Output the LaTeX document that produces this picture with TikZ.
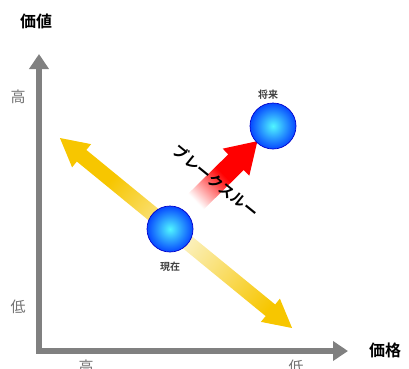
\documentclass[tikz,border=0pt]{standalone}
\usepackage{fontspec}
\setmainfont{Noto Sans CJK JP}
\newfontfamily\jpb{Noto Sans CJK JP Bold}
\usetikzlibrary{arrows.meta}
\definecolor{axisgray}{HTML}{808080}
\definecolor{gold}{HTML}{F7C600}
\definecolor{pale}{HTML}{FBF1C0}
\definecolor{ballblue}{HTML}{0648FF}
\definecolor{ballcyan}{HTML}{50F6FF}
\pgfdeclarehorizontalshading{yellowshade}{100bp}{
  color(0bp)=(gold); color(36bp)=(gold); color(52bp)=(pale); color(70bp)=(gold); color(100bp)=(gold)}
\pgfdeclarehorizontalshading{redshade}{100bp}{
  color(0bp)=(white); color(26bp)=(white); color(48bp)=(red); color(100bp)=(red)}
\tikzset{
  axisline/.style={draw=axisgray, line width=6pt, line join=miter,
    {Triangle[width=19pt,length=15pt]}-{Triangle[width=19pt,length=15pt]}},
  ball/.style={circle, minimum size=46pt, inner sep=0pt, draw=blue!80!black, line width=0.7pt,
    inner color=ballcyan, outer color=ballblue},
  axislabel/.style={text=black, font=\jpb\fontsize{16}{16}\selectfont},
  ticklabel/.style={text=axisgray!90!black, font=\fontsize{15}{15}\selectfont},
  balllabel/.style={text=black!75, font=\jpb\fontsize{10}{10}\selectfont},
}
\begin{document}
\begin{tikzpicture}[x=1pt,y=-1pt]
\useasboundingbox (0,0) rectangle (409,368);
\clip (0,0) rectangle (409,368);
% axes
\coordinate (ytip) at (39,54);
\coordinate (origin) at (39,351);
\coordinate (xtip) at (348,351);
\draw[axisline] (ytip) -- (origin) -- (xtip);
% axis labels
\node[axislabel] (value) at (36,21) {価値};
\node[axislabel] (price) at (385,350) {価格};
\node[ticklabel] (yhigh) at (18,97) {高};
\node[ticklabel] (ylow) at (18,307) {低};
\node[ticklabel] (xhigh) at (86,367) {高};
\node[ticklabel] (xlow) at (296,367) {低};
% yellow double arrow
\shade[transform canvas={shift={(176,233)},rotate=-39.3}, shading=yellowshade]
  (-150,0) -- (-122,15) -- (-122,7.5) -- (122,7.5) -- (122,15) -- (150,0)
  -- (122,-15) -- (122,-7.5) -- (-122,-7.5) -- (-122,-15) -- cycle;
% red arrow
\shade[transform canvas={shift={(226,172)},rotate=44.5}, shading=redshade]
  (-44,11) -- (14,11) -- (14,19) -- (44,0) -- (14,-19) -- (14,-11) -- (-44,-11) -- cycle;
% balls
\node[ball] (now) at (170,229) {};
\node[ball] (future) at (273,126) {};
\node[balllabel] (nowlabel) at (170,267) {現在};
\node[balllabel] (futurelabel) at (268,95) {将来};
% breakthrough text
\node[rotate=-39, text=black, font=\jpb\fontsize{15}{15}\selectfont] (bt) at (216,181) {ブレークスルー};
\end{tikzpicture}
\end{document}
